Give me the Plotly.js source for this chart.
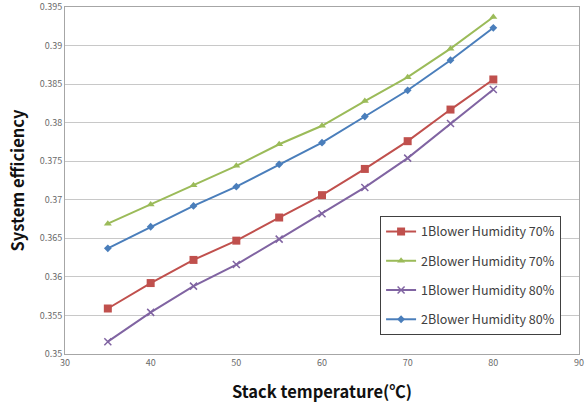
<!DOCTYPE html>
<html>
<head>
<meta charset="utf-8">
<script src="https://cdn.plot.ly/plotly-3.0.1.min.js"></script>
<style>body{margin:0;padding:0;background:#fff}#chart{width:587px;height:412px}</style>
</head>
<body>
<div id="chart"></div>
<script>
const temps = [35, 40, 45, 50, 55, 60, 65, 70, 75, 80];
const blower1Hum70 = [0.3559, 0.3592, 0.3622, 0.3647, 0.3677, 0.3706, 0.3740, 0.3776, 0.3817, 0.3856];
const blower2Hum70 = [0.3669, 0.3694, 0.3719, 0.3744, 0.3772, 0.3796, 0.3828, 0.3859, 0.3896, 0.3937];
const blower1Hum80 = [0.3516, 0.3554, 0.3588, 0.3616, 0.3649, 0.3682, 0.3716, 0.3754, 0.3799, 0.3843];
const blower2Hum80 = [0.3637, 0.3665, 0.3692, 0.3717, 0.3746, 0.3774, 0.3808, 0.3842, 0.3881, 0.3923];
const seriesNames = ['1Blower Humidity 70%', '2Blower Humidity 70%', '1Blower Humidity 80%', '2Blower Humidity 80%'];
const xTicks = [30, 40, 50, 60, 70, 80, 90];
const yTicks = [0.35, 0.355, 0.36, 0.365, 0.37, 0.375, 0.38, 0.385, 0.39, 0.395];

const styles = [
  {color: '#c0504d', symbol: 'square', size: 8},
  {color: '#9bbb59', symbol: 'triangle-up', size: 7},
  {color: '#8064a2', symbol: 'x-thin-open', size: 7},
  {color: '#4a7ebb', symbol: 'diamond', size: 6}
];
const values = [blower1Hum70, blower2Hum70, blower1Hum80, blower2Hum80];
const traces = values.map((v, i) => ({
  x: temps, y: v, name: seriesNames[i], legendgroup: 'g' + i, type: 'scatter', mode: 'lines+markers',
  line: {color: styles[i].color, width: 2},
  marker: {color: styles[i].color, symbol: styles[i].symbol, size: styles[i].size,
           line: {color: styles[i].color, width: i === 2 ? 1.5 : 0}}
}));

const layout = {
  width: 587, height: 412,
  margin: {l: 65, r: 8, t: 7, b: 58},
  paper_bgcolor: '#fff', plot_bgcolor: '#fff',
  font: {family: 'Noto Sans CJK KR, Noto Sans, sans-serif', color: '#595959'},
  showlegend: true,
  legend: {x: 0.613, y: 0.398, xanchor: 'left', yanchor: 'top',
           bgcolor: '#fff', bordercolor: '#404040', borderwidth: 1,
           font: {size: 12.5, color: '#404040'}, tracegroupgap: 10, itemwidth: 30},
  xaxis: {range: [30, 90], tickvals: xTicks, ticktext: xTicks.map(String),
          showgrid: false, zeroline: false, showline: true, linecolor: '#a6a6a6', linewidth: 1, mirror: true,
          ticks: '', tickfont: {size: 9, color: '#6a6a6a'},
          title: {text: 'Stack temperature(℃)', font: {size: 16.5, color: '#111', family: 'Noto Sans CJK KR, sans-serif', weight: 'bold'}, standoff: 18}},
  yaxis: {range: [0.35, 0.395], tickvals: yTicks, ticktext: yTicks.map(v => String(v)),
          showgrid: true, gridcolor: '#c8c8c8', gridwidth: 1, zeroline: false,
          showline: true, linecolor: '#a6a6a6', linewidth: 1, mirror: true,
          ticks: '', tickfont: {size: 9, color: '#6a6a6a'},
          title: {text: 'System efficiency', font: {size: 16.5, color: '#111', family: 'Noto Sans CJK KR, sans-serif', weight: 'bold'}, standoff: 10}}
};
Plotly.newPlot('chart', traces, layout, {displayModeBar: false, staticPlot: true});
</script>
</body>
</html>
